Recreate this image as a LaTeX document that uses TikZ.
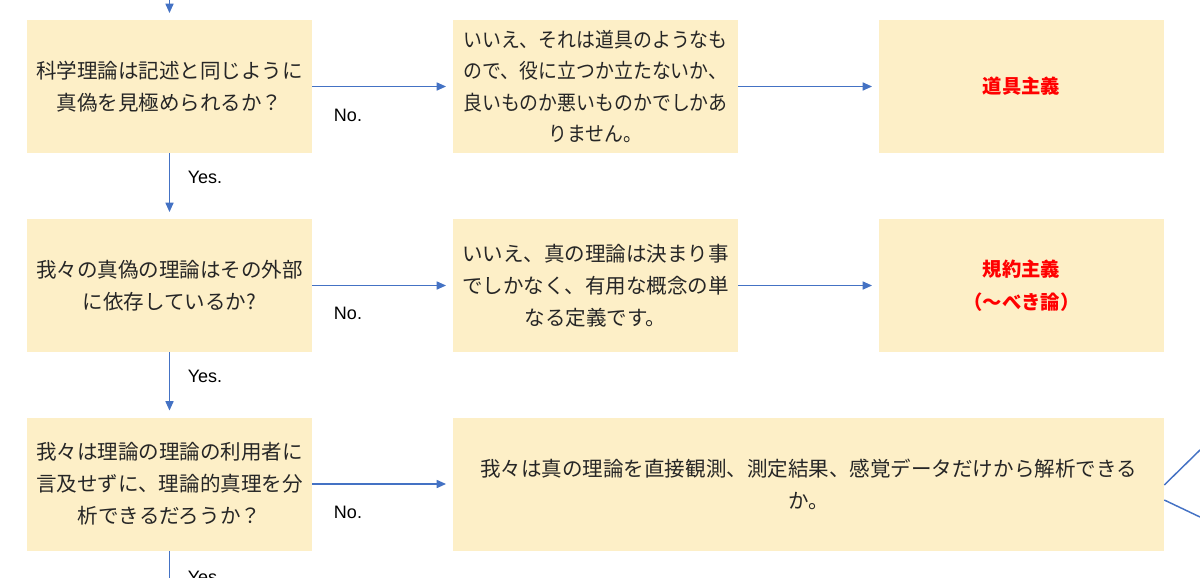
\documentclass[tikz,border=0pt]{standalone}
\usepackage{fontspec}
\setmainfont{Noto Sans CJK JP}
\newfontfamily\narrowfont[FakeStretch=0.92]{Noto Sans CJK JP}
\newfontfamily\latinfont{Liberation Sans}
\usetikzlibrary{arrows.meta}
\definecolor{BoxClr}{RGB}{253,239,199}
\definecolor{LinkClr}{RGB}{68,114,196}
\definecolor{TextClr}{RGB}{38,38,38}
\definecolor{IsmClr}{RGB}{255,0,0}

\begin{document}
\begin{tikzpicture}[x=.75pt,y=-.75pt,
  box/.style={fill=BoxClr,minimum width=213.75pt,minimum height=99.75pt,inner sep=0pt,
    align=center,text=TextClr,font=\fontsize{15.4}{24}\selectfont},
  narrow/.style={box,font=\narrowfont\fontsize{15.4}{23.5}\selectfont},
  wide/.style={box,minimum width=533.25pt},
  ism/.style={box,text=IsmClr,font=\fontsize{14.5}{24.5}\selectfont\bfseries},
  link/.style={draw=LinkClr,line width=1.1pt,-{Triangle[length=7pt,width=6pt]},shorten >=5pt},
  plain/.style={draw=LinkClr,line width=1.1pt},
  lbl/.style={font=\latinfont\fontsize{13.5}{15}\selectfont,text=black}]
\useasboundingbox (0,0) rectangle (1200,578);

\node[box] (Q1) at (169.5,86.5) {科学理論は記述と同じように\\真偽を見極められるか？};
\node[narrow] (N1) at (595.5,86.5) {いいえ、それは道具のようなも\\ので、役に立つか立たないか、\\良いものか悪いものかでしかあ\\りません。};
\node[ism] (R1) at (1021.5,86.5) {道具主義};

\node[box] (Q2) at (169.5,285.5) {我々の真偽の理論はその外部\\に依存しているか?};
\node[box] (N2) at (595.5,285.5) {いいえ、真の理論は決まり事\\でしかなく、有用な概念の単\\なる定義です。};
\node[ism] (R2) at (1021.5,285.5) {規約主義\\（～べき論）};

\node[box] (Q3) at (169.5,484) {我々は理論の理論の利用者に\\言及せずに、理論的真理を分\\析できるだろうか？};
\node[wide] (W) at (808.5,484) {我々は真の理論を直接観測、測定結果、感覚データだけから解析できる\\か。};

\coordinate (T) at (169.5,0);
\coordinate (B) at (169.5,620);
\coordinate (E1) at (1200,450);
\coordinate (E2) at (1200,517);

\draw[link] (T) -- (Q1);
\draw[link] (Q1) -- (Q2);
\draw[link] (Q2) -- (Q3);
\draw[link] (Q3) -- (B);

\draw[link] (Q1) -- (N1);
\draw[link] (N1) -- (R1);
\draw[link] (Q2) -- (N2);
\draw[link] (N2) -- (R2);
\draw[link] (Q3) -- (W);

\draw[plain] ([yshift=-.75pt]W.east) -- (E1);
\draw[plain] ([yshift=-12pt]W.east) -- (E2);

\node[lbl] (no1) at (348,115) {No.};
\node[lbl] (no2) at (348,313) {No.};
\node[lbl] (no3) at (348,512) {No.};
\node[lbl] (yes1) at (205,177) {Yes.};
\node[lbl] (yes2) at (205,376) {Yes.};
\node[lbl] (yes3) at (205,577) {Yes.};

\end{tikzpicture}
\end{document}
